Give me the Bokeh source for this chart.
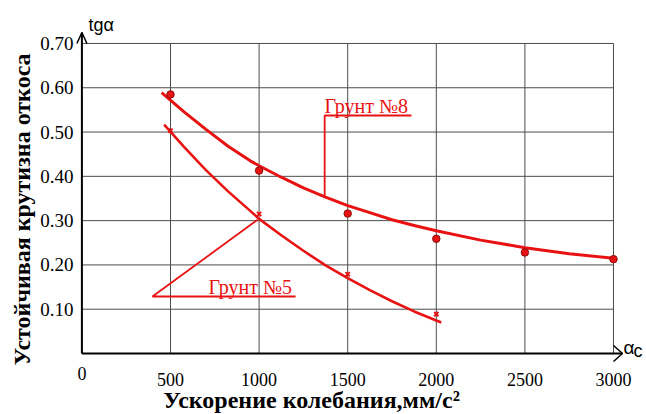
from bokeh.plotting import figure
from bokeh.models import Range1d
from bokeh.core.properties import value
from bokeh.embed import file_html
from bokeh.resources import INLINE
import math

# Measured slope gradients (tg alpha) against oscillation acceleration, mm/s^2
accel_8 = [500, 1000, 1500, 2000, 2500, 3000]
tga_8 = [0.585, 0.413, 0.316, 0.259, 0.228, 0.213]
accel_5 = [500, 1000, 1500, 2000]
tga_5 = [0.503, 0.315, 0.179, 0.089]

# Smoothed trend curves through the measurements
curve_x_8 = [450, 575, 700, 825, 950, 1000, 1125, 1250, 1375, 1500, 1625,
             1750, 1875, 2000, 2250, 2500, 2750, 3000]
curve_y_8 = [0.589, 0.546, 0.506, 0.468, 0.435, 0.424, 0.398, 0.374, 0.353,
             0.334, 0.318, 0.302, 0.289, 0.277, 0.256, 0.239, 0.225, 0.215]
curve_x_5 = [464, 575, 700, 825, 950, 1000, 1125, 1250, 1375, 1500, 1625,
             1750, 1875, 2028]
curve_y_5 = [0.517, 0.467, 0.414, 0.366, 0.322, 0.304, 0.267, 0.232, 0.199,
             0.170, 0.143, 0.118, 0.095, 0.070]

x_ticks = [0, 500, 1000, 1500, 2000, 2500, 3000]
x_tick_labels = ["0", "500", "1000", "1500", "2000", "2500", "3000"]
y_ticks = [0.1, 0.2, 0.3, 0.4, 0.5, 0.6, 0.7]
y_tick_labels = ["0.10", "0.20", "0.30", "0.40", "0.50", "0.60", "0.70"]

RED = "#e81212"
SERIF = "Liberation Serif"
SANS = "Liberation Sans"

# screen geometry: origin of the axes and pixels per data unit
X0, Y0 = 81.4, 353.0
XS, YS = 0.1772, 442.9
W, H = 646, 414


def dx(px):
    return (px - X0) / XS


def dy(py):
    return (Y0 - py) / YS


p = figure(width=W, height=H,
           x_range=Range1d(dx(0), dx(W)), y_range=Range1d(dy(H), dy(0)),
           output_backend="svg", toolbar_location=None,
           x_axis_location=None, y_axis_location=None,
           min_border=0)
p.grid.visible = False
p.outline_line_color = None
p.background_fill_color = "white"
p.border_fill_color = "white"

# Grid
grid_color = "#4d4d4d"
p.segment(x0=x_ticks[1:], y0=[0] * 6, x1=x_ticks[1:], y1=[y_ticks[-1]] * 6,
          line_color=grid_color, line_width=1)
p.segment(x0=[0] * 7, y0=y_ticks, x1=[x_ticks[-1]] * 7, y1=y_ticks,
          line_color=grid_color, line_width=1)

# Axis lines with open arrow heads
x_tip, y_tip = dx(622), dy(32)
p.line([0, x_tip], [0, 0], line_color="black", line_width=2)
p.line([0, 0], [0, y_tip], line_color="black", line_width=2)
p.multi_line(xs=[[x_tip - 9 / XS, x_tip, x_tip - 9 / XS], [-5 / XS, 0, 5 / XS]],
             ys=[[8 / YS, 0, -8 / YS], [y_tip - 11 / YS, y_tip, y_tip - 11 / YS]],
             line_color="black", line_width=1.5)

# Tick labels
p.text(x=x_ticks[1:], y=[dy(379)] * 6, text=x_tick_labels[1:],
       text_font=value(SERIF), text_font_size="18px", text_color="black",
       text_align="center", text_baseline="middle")
p.text(x=[x_ticks[0]], y=[dy(373)], text=[x_tick_labels[0]],
       text_font=value(SERIF), text_font_size="18px", text_color="black",
       text_align="center", text_baseline="middle")
p.text(x=[dx(73)] * 7, y=y_ticks, text=y_tick_labels,
       text_font=value(SERIF), text_font_size="19px", text_color="black",
       text_align="right", text_baseline="middle")

# Trend curves
p.line(curve_x_8, curve_y_8, line_color=RED, line_width=3, line_join="round")
p.line(curve_x_5, curve_y_5, line_color=RED, line_width=2.6, line_join="round")

# Measurements
p.scatter(accel_8, tga_8, marker="circle", size=7.5, fill_color=RED,
          line_color="#8a1010", line_width=1)
p.scatter(accel_5, tga_5, marker="x", size=6, line_color=RED, line_width=2)

# Leader lines and soil labels
p.multi_line(xs=[[1370, 1370, 1860], [992, 398, 1206]],
             ys=[[0.354, dy(115), dy(115)], [0.302, dy(296), dy(296)]],
             line_color=RED, line_width=1.8)
p.text(x=[dx(324), dx(208)], y=[dy(105.5), dy(286.5)],
       text=["Грунт №8", "Грунт №5"],
       text_font=value(SERIF), text_font_size="20px", text_color=RED,
       text_align="left", text_baseline="middle")

# Axis symbols
p.text(x=[dx(88)], y=[dy(24)], text=["tgα"], text_font=value(SANS),
       text_font_size="18px", text_color="black",
       text_align="left", text_baseline="middle")
p.text(x=[dx(623)], y=[dy(346.5)], text=["α"], text_font=value(SANS),
       text_font_size="19px", text_color="black",
       text_align="left", text_baseline="middle")
p.text(x=[dx(633)], y=[dy(350)], text=["c"], text_font=value(SANS),
       text_font_size="18px", text_color="black",
       text_align="left", text_baseline="middle")

# Axis titles
p.text(x=[dx(311)], y=[dy(399.5)], text=["Ускорение колебания,мм/с²"],
       text_font=value(SERIF), text_font_size="24px", text_font_style="bold",
       text_color="black", text_align="center", text_baseline="middle")
p.text(x=[dx(21)], y=[dy(209)], text=["Устойчивая крутизна откоса"],
       angle=math.pi / 2,
       text_font=value(SERIF), text_font_size="24px", text_font_style="bold",
       text_color="black", text_align="center", text_baseline="middle")

open("out.html", "w").write(file_html(p, INLINE))
